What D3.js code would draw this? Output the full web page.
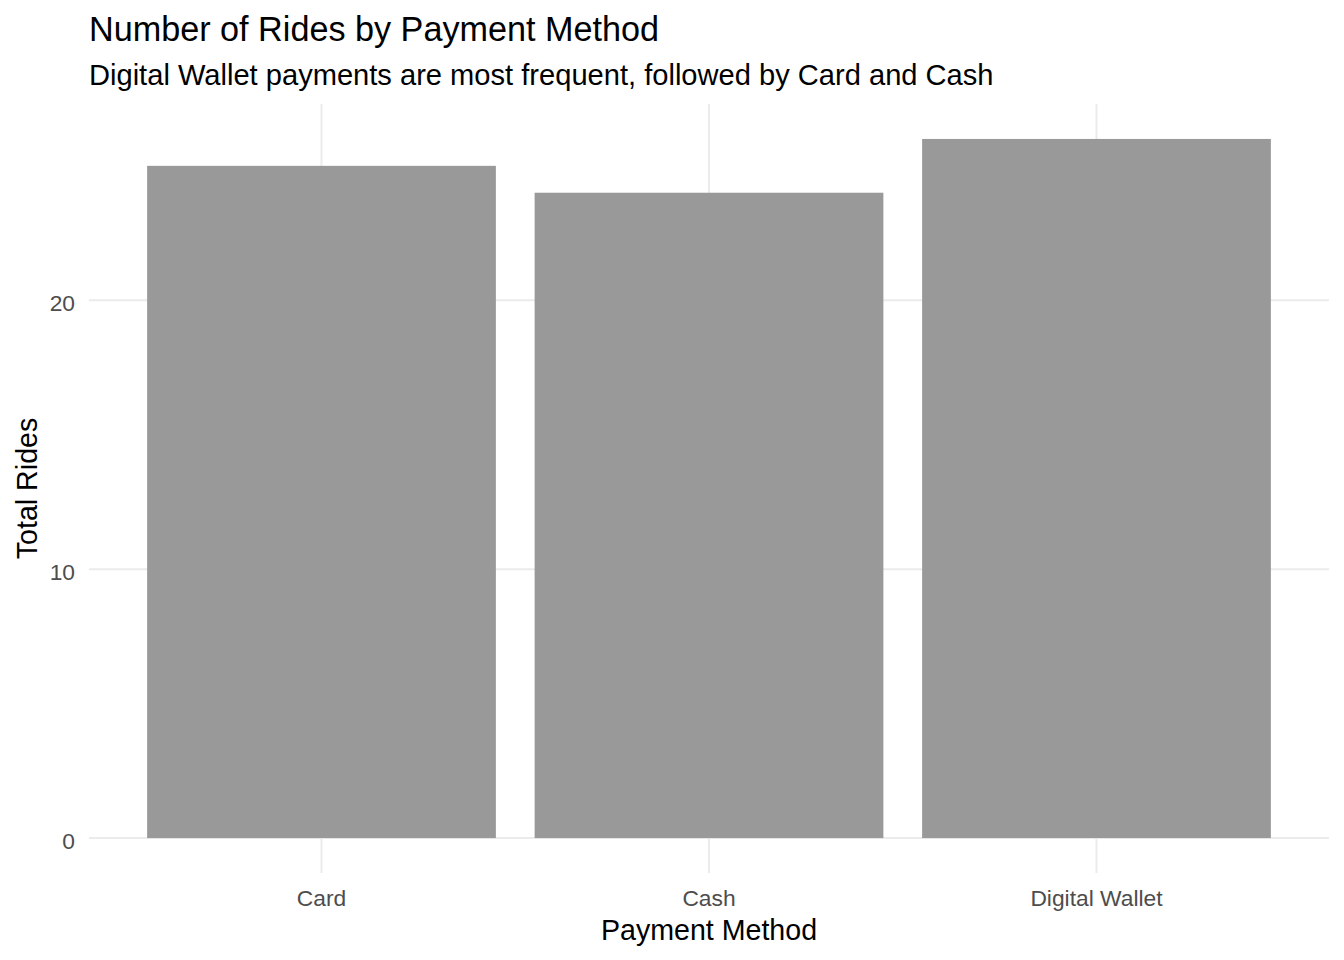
<!DOCTYPE html>
<html>
<head>
<meta charset="utf-8">
<script src="https://cdn.jsdelivr.net/npm/d3@7"></script>
<style>
  body { margin: 0; background: #fff; }
  text { font-family: "Liberation Sans", Arial, sans-serif; }
</style>
</head>
<body>
<div id="chart"></div>
<script>
// data
const categories = ["Card", "Cash", "Digital Wallet"];
const rides = [25, 24, 26];
const yTicks = [0, 10, 20];

const width = 1344;
const height = 960;
const panel = { left: 89, right: 1329, top: 104, bottom: 873 };

const svg = d3.select("#chart")
    .append("svg")
    .attr("width", width)
    .attr("height", height);

// scales (ggplot style expansion)
const yMax = d3.max(rides);
const yScale = d3.scaleLinear()
    .domain([-0.05 * yMax, yMax * 1.05])
    .range([panel.bottom, panel.top]);

const xScale = d3.scaleBand()
    .domain(categories)
    .range([panel.left, panel.right])
    .paddingInner(0.1)
    .paddingOuter(0.15);

// gridlines
svg.append("g")
    .selectAll("line")
    .data(yTicks)
    .join("line")
    .attr("x1", panel.left)
    .attr("x2", panel.right)
    .attr("y1", d => yScale(d))
    .attr("y2", d => yScale(d))
    .attr("stroke", "#ebebeb")
    .attr("stroke-width", 2);

svg.append("g")
    .selectAll("line")
    .data(categories)
    .join("line")
    .attr("x1", d => xScale(d) + xScale.bandwidth() / 2)
    .attr("x2", d => xScale(d) + xScale.bandwidth() / 2)
    .attr("y1", panel.top)
    .attr("y2", panel.bottom)
    .attr("stroke", "#ebebeb")
    .attr("stroke-width", 2);

// bars
svg.append("g")
    .selectAll("rect")
    .data(categories)
    .join("rect")
    .attr("x", d => xScale(d))
    .attr("width", xScale.bandwidth())
    .attr("y", (d, i) => yScale(rides[i]))
    .attr("height", (d, i) => yScale(0) - yScale(rides[i]))
    .attr("fill", "#999999");

// y axis
const yAxis = svg.append("g")
    .attr("transform", "translate(" + (panel.left - 14) + ",0)")
    .call(d3.axisLeft(yScale).tickValues(yTicks).tickSize(0).tickPadding(0));
yAxis.select(".domain").remove();
yAxis.selectAll("text")
    .attr("dy", "0.45em")
    .attr("fill", "#4d4d4d")
    .style("font-size", "22.8px")
    .style("font-family", "'Liberation Sans', Arial, sans-serif");

// x axis
const xAxis = svg.append("g")
    .attr("transform", "translate(0," + panel.bottom + ")")
    .call(d3.axisBottom(xScale).tickSize(0).tickPadding(0));
xAxis.select(".domain").remove();
xAxis.selectAll("text")
    .attr("dy", null)
    .attr("y", 33)
    .attr("fill", "#4d4d4d")
    .style("font-size", "22.8px")
    .style("font-family", "'Liberation Sans', Arial, sans-serif");

// titles
svg.append("text")
    .attr("x", 89)
    .attr("y", 41)
    .style("font-size", "34.2px")
    .attr("fill", "#000")
    .text("Number of Rides by Payment Method");

svg.append("text")
    .attr("x", 89)
    .attr("y", 85)
    .style("font-size", "29.1px")
    .attr("fill", "#000")
    .text("Digital Wallet payments are most frequent, followed by Card and Cash");

svg.append("text")
    .attr("x", (panel.left + panel.right) / 2)
    .attr("y", 940)
    .attr("text-anchor", "middle")
    .style("font-size", "28.6px")
    .attr("fill", "#000")
    .text("Payment Method");

svg.append("text")
    .attr("transform", "translate(37," + (panel.top + panel.bottom) / 2 + ") rotate(-90)")
    .attr("text-anchor", "middle")
    .style("font-size", "28.6px")
    .attr("fill", "#000")
    .text("Total Rides");
</script>
</body>
</html>
